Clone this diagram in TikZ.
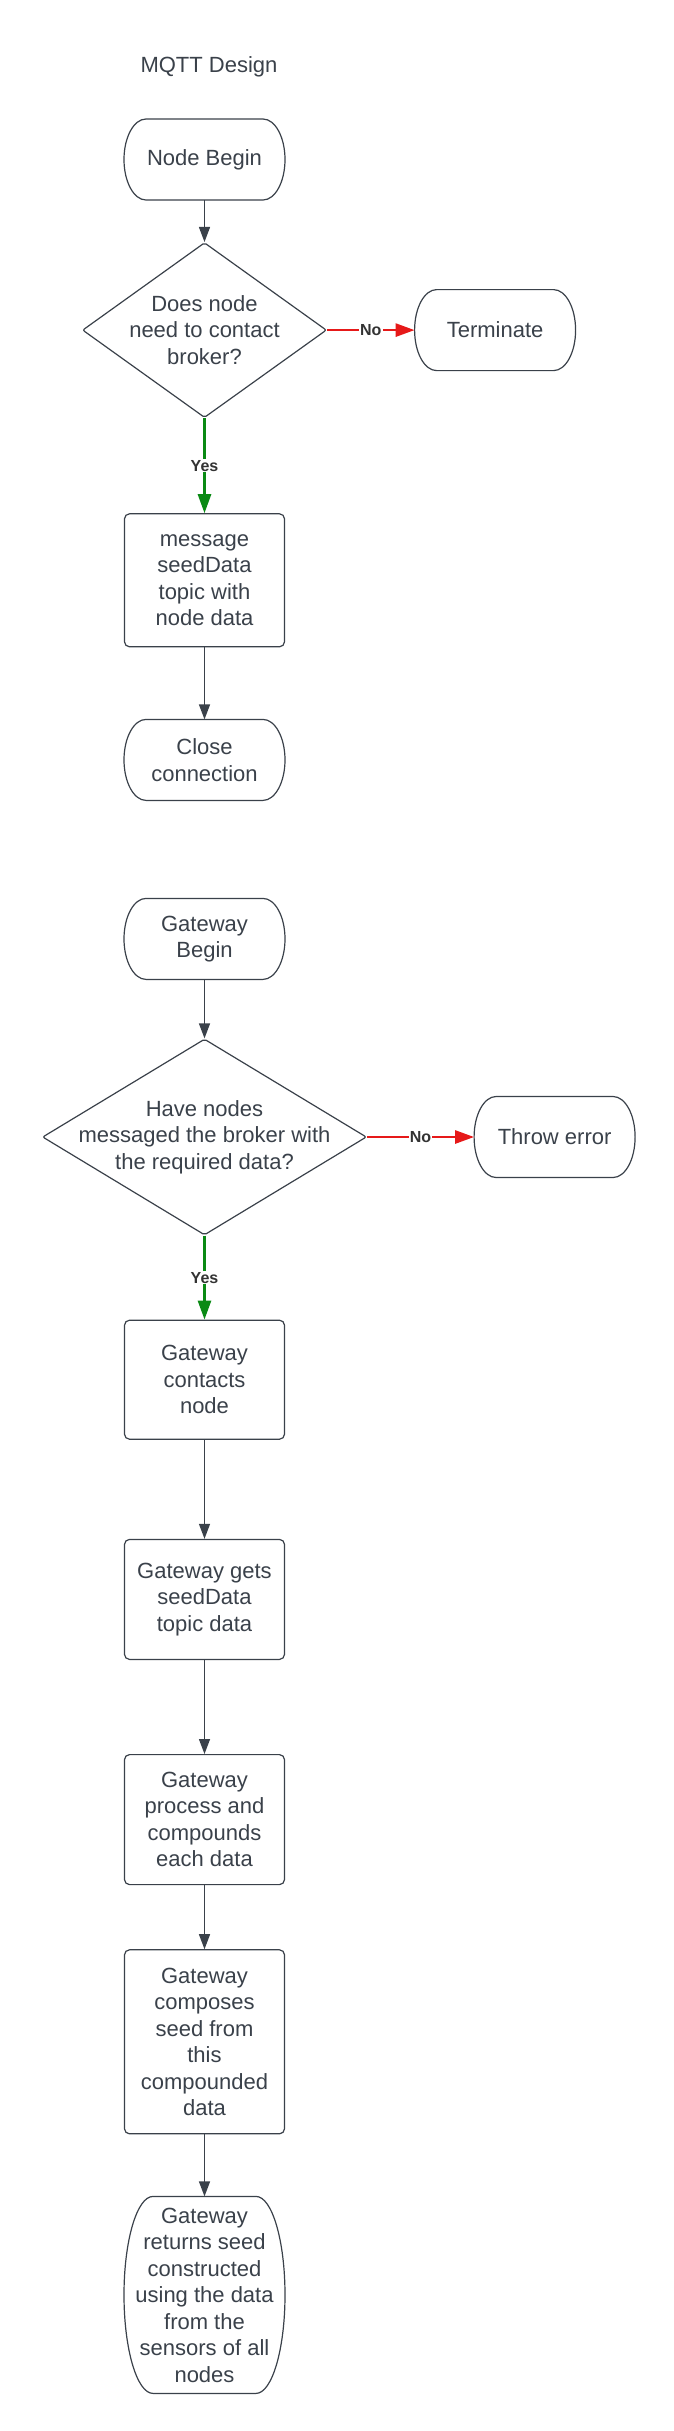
\documentclass[tikz,border=0pt]{standalone}
\usepackage{fontspec}
\setmainfont{Liberation Sans}
\usepackage{xcolor}
\usepackage{tikz}
\usetikzlibrary{shapes.geometric, arrows.meta, positioning, calc}
\definecolor{linegray}{HTML}{3A414A}
\definecolor{labelgray}{HTML}{333333}
\definecolor{yesgreen}{HTML}{0A8A14}
\definecolor{nored}{HTML}{E61919}
\tikzstyle{terminal} = [rectangle, minimum width=161pt, minimum height=81pt, inner sep=0pt, outer sep=0pt, align=center, text=linegray]
\tikzstyle{frame} = [draw=linegray, line width=1.2pt]
\tikzstyle{process} = [rectangle, rounded corners=5pt, minimum width=160pt, align=center, draw=linegray, line width=1.2pt, text=linegray]
\tikzstyle{decision} = [diamond, inner sep=-14pt, rounded corners=2pt, align=center, draw=linegray, line width=1.2pt, text=linegray]
\tikzstyle{arrow} = [line width=1.3pt, draw=linegray, ->, >={Triangle[length=15pt, width=11pt]}]
\tikzstyle{yesarrow} = [arrow, line width=2.7pt, draw=yesgreen, >={Triangle[length=19pt, width=13pt]}]
\tikzstyle{noarrow} = [arrow, line width=2.7pt, draw=nored, >={Triangle[length=19pt, width=13pt]}]
\tikzstyle{answer} = [fill=white, inner sep=1pt, text=labelgray, font=\bfseries\fontsize{16}{19}\selectfont]

% outline of a terminal node: flat top and bottom, elliptic ends
\newcommand{\termframe}[2][22pt]{%
  \draw[frame] let \p1=(#2.north east), \p2=(#2.south west) in
    ({\x2+#1},\y1) -- ({\x1-#1},\y1)
    arc[start angle=90, end angle=-90, x radius=#1, y radius={0.5*(\y1)-0.5*(\y2)}]
    -- ({\x2+#1},\y2)
    arc[start angle=270, end angle=90, x radius=#1, y radius={0.5*(\y1)-0.5*(\y2)}] -- cycle;}

\begin{document}
\begin{tikzpicture}[font=\fontsize{22}{26.5}\selectfont]
    \useasboundingbox (0,0) rectangle (674pt,-2431pt);
    % Title
    \node[text=linegray] (title) at (209pt,-67pt) {MQTT Design};

    % Node side
    \node[terminal] (nodebegin) at (204.5pt,-159.5pt) {Node Begin};
    \node[decision, below=42pt of nodebegin, aspect=1.4, minimum width=244pt, minimum height=175pt] (contact) {Does node\\need to contact\\broker?};
    \node[terminal, right=87.5pt of contact] (terminate) {Terminate};
    \node[process, below=95pt of contact, minimum height=133pt] (message) {message\\seedData\\topic with\\node data};
    \node[terminal, below=72pt of message] (close) {Close\\connection};

    % Gateway side
    \node[terminal, below=98pt of close] (gatebegin) {Gateway\\Begin};
    \node[decision, below=59pt of gatebegin, aspect=1.66, minimum width=324pt, minimum height=196pt] (received) {Have nodes\\messaged the broker with\\the required data?};
    \node[terminal, right=107pt of received] (throw) {Throw error};
    \node[process, below=84pt of received, minimum height=119pt] (contacts) {Gateway\\contacts\\node};
    \node[process, below=99pt of contacts, minimum height=120pt] (gets) {Gateway gets\\seedData\\topic data};
    \node[process, below=94pt of gets, minimum height=130pt] (compound) {Gateway\\process and\\compounds\\each data};
    \node[process, below=64pt of compound, minimum height=184pt] (compose) {Gateway\\composes\\seed from\\this\\compounded\\data};
    \node[terminal, below=62pt of compose, minimum height=197pt] (returnseed) {Gateway\\returns seed\\constructed\\using the data\\from the\\sensors of all\\nodes};

    % Outlines of the terminals
    \termframe{nodebegin}
    \termframe{terminate}
    \termframe{close}
    \termframe{gatebegin}
    \termframe{throw}
    \termframe[29pt]{returnseed}

    % Connections
    \draw[arrow] (nodebegin) -- (contact);
    \draw[noarrow] (contact) -- node[answer] {No} (terminate);
    \draw[yesarrow] (contact) -- node[answer] {Yes} (message);
    \draw[arrow] (message) -- (close);
    \draw[arrow] (gatebegin) -- (received);
    \draw[noarrow] (received) -- node[answer] {No} (throw);
    \draw[yesarrow] (received) -- node[answer] {Yes} (contacts);
    \draw[arrow] (contacts) -- (gets);
    \draw[arrow] (gets) -- (compound);
    \draw[arrow] (compound) -- (compose);
    \draw[arrow] (compose) -- (returnseed);

\end{tikzpicture}
\end{document}
